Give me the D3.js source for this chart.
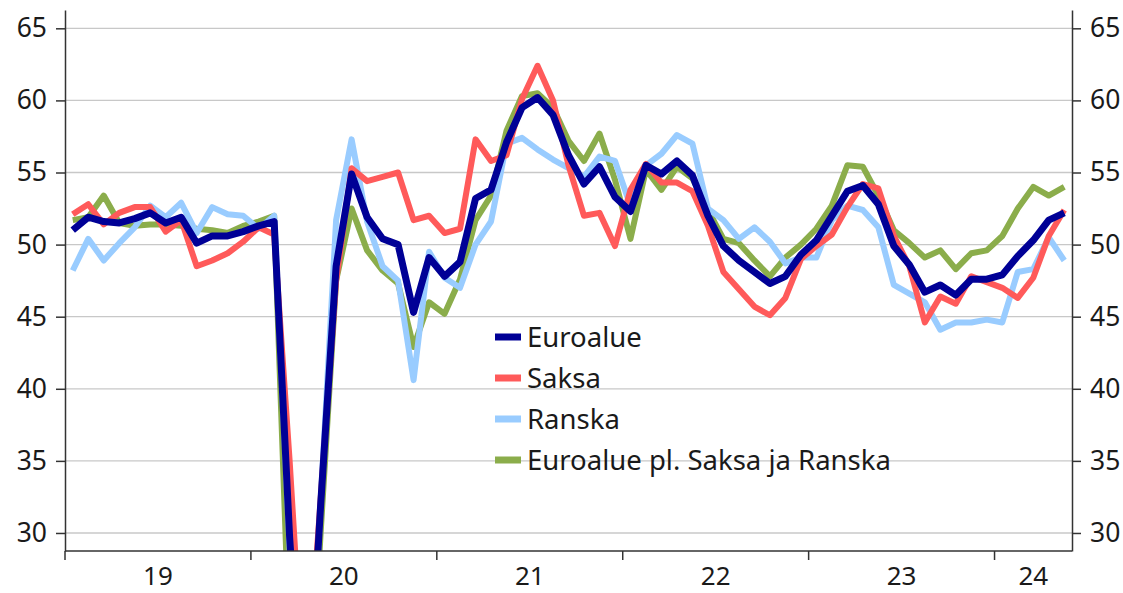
<!DOCTYPE html>
<html>
<head>
<meta charset="utf-8">
<script src="https://cdn.jsdelivr.net/npm/d3@7"></script>
<style>
  body { margin: 0; background: #fff; }
  svg text { font-family: "Noto Sans", "Open Sans", sans-serif; fill: #1a1a1a; }
</style>
</head>
<body>
<svg id="chart"></svg>
<script>
// monthly composite PMI, Jan 2019 - May 2024
const years = ["19", "20", "21", "22", "23", "24"];
const euroalue = [
  51.0, 51.9, 51.6, 51.5, 51.8, 52.2, 51.5, 51.9, 50.1, 50.6, 50.6, 50.9,
  51.3, 51.6, 29.7, 13.6, 31.9, 48.5, 54.9, 51.9, 50.4, 50.0, 45.3, 49.1,
  47.8, 48.8, 53.2, 53.8, 57.1, 59.5, 60.2, 59.0, 56.2, 54.2, 55.4, 53.3,
  52.3, 55.5, 54.9, 55.8, 54.8, 52.0, 49.9, 48.9, 48.1, 47.3, 47.8, 49.3,
  50.3, 52.0, 53.7, 54.1, 52.8, 49.9, 48.6, 46.7, 47.2, 46.5, 47.6, 47.6,
  47.9, 49.2, 50.3, 51.7, 52.2];
const saksa = [
  52.1, 52.8, 51.4, 52.2, 52.6, 52.6, 50.9, 51.7, 48.5, 48.9, 49.4, 50.2,
  51.2, 50.7, 35.0, 17.4, 32.3, 47.5, 55.3, 54.4, 54.7, 55.0, 51.7, 52.0,
  50.8, 51.1, 57.3, 55.8, 56.2, 60.1, 62.4, 60.0, 55.5, 52.0, 52.2, 49.9,
  53.8, 55.6, 54.3, 54.3, 53.7, 51.3, 48.1, 46.9, 45.7, 45.1, 46.3, 49.0,
  49.9, 50.7, 52.6, 54.2, 53.9, 50.6, 48.5, 44.6, 46.4, 45.9, 47.8, 47.4,
  47.0, 46.3, 47.7, 50.6, 52.4];
const ranska = [
  48.2, 50.4, 48.9, 50.1, 51.2, 52.7, 51.9, 52.9, 50.8, 52.6, 52.1, 52.0,
  51.1, 52.0, 28.9, 11.1, 32.1, 51.7, 57.3, 51.6, 48.5, 47.5, 40.6, 49.5,
  47.7, 47.0, 50.0, 51.6, 57.0, 57.4, 56.6, 55.9, 55.3, 54.7, 56.1, 55.8,
  52.7, 55.5, 56.3, 57.6, 57.0, 52.5, 51.7, 50.4, 51.2, 50.2, 48.7, 49.1,
  49.1, 51.7, 52.7, 52.4, 51.2, 47.2, 46.6, 46.0, 44.1, 44.6, 44.6, 44.8,
  44.6, 48.1, 48.3, 50.5, 48.9];
const euroaluePl = [
  51.7, 51.9, 53.4, 51.5, 51.3, 51.4, 51.4, 51.3, 51.1, 51.0, 50.8, 51.3,
  51.6, 52.0, 22.0, 11.0, 30.0, 47.5, 52.5, 49.6, 48.2, 47.3, 42.9, 46.0,
  45.2, 47.6, 51.7, 53.4, 57.9, 60.3, 60.5, 59.5, 57.2, 55.8, 57.7, 54.5,
  50.4, 55.2, 53.8, 55.4, 54.6, 52.4, 50.4, 50.1, 48.9, 47.8, 49.1, 50.0,
  51.1, 52.7, 55.5, 55.4, 53.4, 51.0, 50.1, 49.1, 49.6, 48.3, 49.4, 49.6,
  50.6, 52.5, 54.0, 53.4, 54.0];
const yTicks = [30, 35, 40, 45, 50, 55, 60, 65];

const series = [
  { name: "Euroalue pl. Saksa ja Ranska", values: euroaluePl, color: "#8bad4b", width: 6 },
  { name: "Ranska", values: ranska, color: "#99ccff", width: 6 },
  { name: "Saksa", values: saksa, color: "#ff5a5a", width: 6 },
  { name: "Euroalue", values: euroalue, color: "#000096", width: 7 }
];
const legendOrder = ["Euroalue", "Saksa", "Ranska", "Euroalue pl. Saksa ja Ranska"];

const width = 1123, height = 593;
const plotLeft = 65, plotRight = 1072, plotTop = 10, plotBottom = 551;

const svg = d3.select("#chart").attr("width", width).attr("height", height);

const x = d3.scaleLinear().domain([0, euroalue.length]).range([plotLeft, plotRight]);
const y = d3.scaleLinear().domain([28.75, 66.27]).range([plotBottom, plotTop]);

// gridlines
svg.append("g")
  .selectAll("line")
  .data(yTicks)
  .join("line")
  .attr("x1", plotLeft).attr("x2", plotRight)
  .attr("y1", d => y(d)).attr("y2", d => y(d))
  .attr("stroke", "#c8c8c8")
  .attr("stroke-width", 1.3);

// lines
svg.append("clipPath").attr("id", "plot")
  .append("rect")
  .attr("x", plotLeft).attr("y", plotTop)
  .attr("width", plotRight - plotLeft).attr("height", plotBottom - plotTop);

const line = d3.line()
  .x((d, i) => x(i + 0.5))
  .y(d => y(d));

svg.append("g").attr("clip-path", "url(#plot)")
  .selectAll("path")
  .data(series)
  .join("path")
  .attr("fill", "none")
  .attr("stroke", d => d.color)
  .attr("stroke-width", d => d.width)
  .attr("stroke-linejoin", "round")
  .attr("d", d => line(d.values));

// axes
const leftAxis = svg.append("g")
  .attr("transform", `translate(${plotLeft},0)`)
  .call(d3.axisLeft(y).tickValues(yTicks).tickSize(9).tickSizeOuter(0).tickPadding(9));
const rightAxis = svg.append("g")
  .attr("transform", `translate(${plotRight},0)`)
  .call(d3.axisRight(y).tickValues(yTicks).tickSize(9).tickSizeOuter(0).tickPadding(9));

[leftAxis, rightAxis].forEach(a => {
  a.select(".domain").attr("stroke", "#333").attr("stroke-width", 1.5);
  a.selectAll(".tick line").attr("stroke", "#333").attr("stroke-width", 1.5);
  a.selectAll(".tick text").attr("font-size", 26.5).attr("fill", "#1a1a1a")
    .style("font-family", '"Noto Sans", sans-serif');
});

// x axis: year boundaries
const yearStarts = years.map((d, i) => i * 12);
const xAxis = svg.append("g");
xAxis.append("line")
  .attr("x1", plotLeft).attr("x2", plotRight)
  .attr("y1", plotBottom).attr("y2", plotBottom)
  .attr("stroke", "#333").attr("stroke-width", 1.5);
xAxis.selectAll(".yt")
  .data(yearStarts)
  .join("line")
  .attr("class", "yt")
  .attr("x1", d => x(d)).attr("x2", d => x(d))
  .attr("y1", plotBottom).attr("y2", plotBottom + 9)
  .attr("stroke", "#333").attr("stroke-width", 1.5);
xAxis.selectAll("text")
  .data(years)
  .join("text")
  .attr("x", (d, i) => x((i * 12 + Math.min(i * 12 + 12, euroalue.length)) / 2))
  .attr("y", 585)
  .attr("text-anchor", "middle")
  .attr("font-size", 26)
  .text(d => d);

// legend
const legend = svg.append("g").attr("transform", "translate(495,337)");
const items = legend.selectAll("g")
  .data(legendOrder.map(n => series.find(s => s.name === n)))
  .join("g")
  .attr("transform", (d, i) => `translate(0,${i * 41})`);
items.append("line")
  .attr("x1", 0).attr("x2", 26)
  .attr("stroke", d => d.color)
  .attr("stroke-width", 7);
items.append("text")
  .attr("x", 32).attr("y", 9.5)
  .attr("font-size", 27.5)
  .text(d => d.name);
</script>
</body>
</html>
